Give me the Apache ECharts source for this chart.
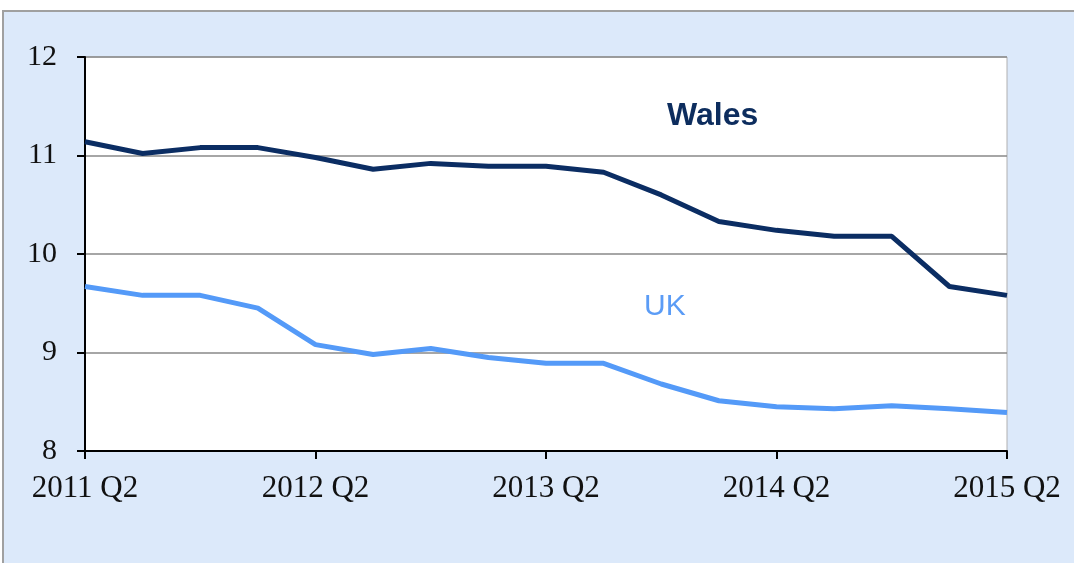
<!DOCTYPE html>
<html>
<head>
<meta charset="utf-8">
<script src="https://cdn.jsdelivr.net/npm/echarts@6/dist/echarts.min.js"></script>
<style>html,body{margin:0;padding:0;background:#fff;}#c{width:1074px;height:563px;}</style>
</head>
<body>
<div id="c"></div>
<script>
const categories = ['2011 Q2','2011 Q3','2011 Q4','2012 Q1','2012 Q2','2012 Q3','2012 Q4','2013 Q1','2013 Q2','2013 Q3','2013 Q4','2014 Q1','2014 Q2','2014 Q3','2014 Q4','2015 Q1','2015 Q2'];
const wales = [11.14,11.02,11.08,11.08,10.98,10.86,10.92,10.89,10.89,10.83,10.60,10.33,10.24,10.18,10.18,9.67,9.58];
const uk = [9.67,9.58,9.58,9.45,9.08,8.98,9.04,8.95,8.89,8.89,8.68,8.51,8.45,8.43,8.46,8.43,8.39];
const yTicks = {min: 8, max: 12, interval: 1};

const chart = echarts.init(document.getElementById('c'));
chart.setOption({
  backgroundColor: '#ffffff',
  animation: false,
  graphic: [
    {type:'rect', z:-10, shape:{x:3, y:11, width:1090, height:570}, style:{fill:'#dce9fa', stroke:'#a0a0a0', lineWidth:2}},
    {type:'text', left: 667, top: 100, z: 100, style:{text:'Wales', fill:'#0d2d5e', font:'bold 32px "Liberation Sans", Arial, sans-serif'}},
    {type:'text', left: 644, top: 292, z: 100, style:{text:'UK', fill:'#5b9cf6', font:'30px "Liberation Sans", Arial, sans-serif'}}
  ],
  grid: {left: 85, right: 67, top: 57, bottom: 112, show: true, backgroundColor: '#ffffff', borderColor: '#b0b0b0', borderWidth: 1},
  xAxis: {
    type: 'category', data: categories, boundaryGap: false,
    axisLine: {lineStyle: {color: '#000', width: 2}},
    axisTick: {interval: 3, length: 8, lineStyle: {color: '#000', width: 2}},
    axisLabel: {interval: 3, color: '#111', fontFamily: '"Liberation Serif", "Times New Roman", serif', fontSize: 31, margin: 22},
    splitLine: {show: false}
  },
  yAxis: {
    type: 'value', min: yTicks.min, max: yTicks.max, interval: yTicks.interval,
    axisLine: {show: true, lineStyle: {color: '#000', width: 2}},
    axisTick: {show: true, length: 8, lineStyle: {color: '#000', width: 2}},
    axisLabel: {color: '#111', fontFamily: '"Liberation Serif", "Times New Roman", serif', fontSize: 30, margin: 28},
    splitLine: {lineStyle: {color: '#888', width: 1.5}}
  },
  series: [
    {name: 'Wales', type: 'line', data: wales, symbol: 'none', lineStyle: {color: '#0b2d63', width: 5}, z: 3},
    {name: 'UK', type: 'line', data: uk, symbol: 'none', lineStyle: {color: '#549af8', width: 5}, z: 2}
  ]
});
</script>
</body>
</html>
